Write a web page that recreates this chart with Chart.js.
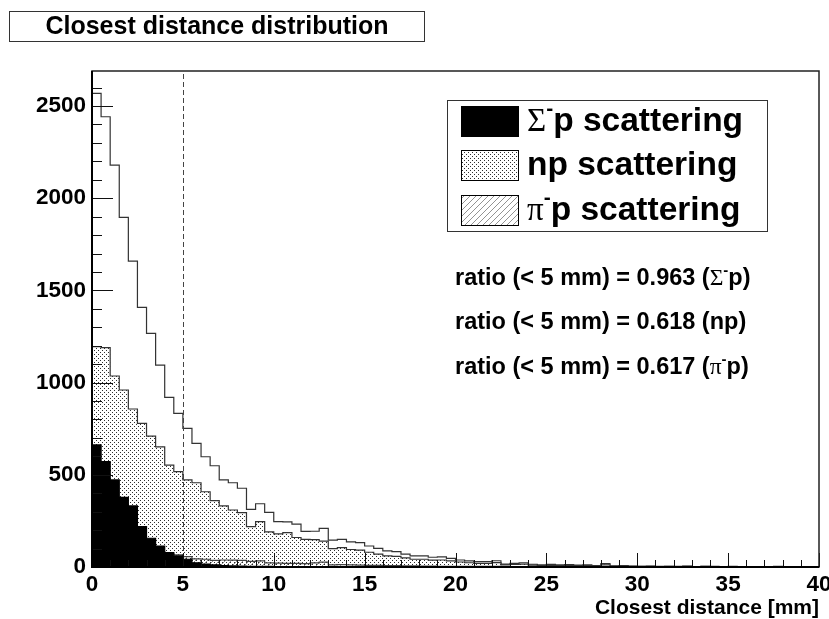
<!DOCTYPE html>
<html>
<head>
<meta charset="utf-8">
<script src="https://cdn.jsdelivr.net/npm/chart.js@4.4.1/dist/chart.umd.min.js"></script>
<style>
  html, body { margin: 0; padding: 0; background: #ffffff; }
  #wrap { position: relative; width: 829px; height: 619px; }
</style>
</head>
<body>
<div id="wrap"><canvas id="histChart" width="829" height="619"></canvas></div>
<script>
// bins are 0.5 mm wide, 0 .. 40 mm
const binWidth = 0.5;
const xTicks = [0, 5, 10, 15, 20, 25, 30, 35, 40];
const yTicks = [0, 500, 1000, 1500, 2000, 2500];
const yMax = 2690;
const cutValue = 5;

const totalCounts = [
  2569, 2442, 2180, 1896, 1659, 1408, 1267, 1095, 920, 833,
  752, 671, 598, 549, 472, 457, 427, 313, 343, 296,
  246, 245, 232, 193, 194, 210, 146, 150, 136, 132,
  114, 101, 87, 83, 70, 60, 60, 53, 55, 47,
  38, 33, 29, 29, 34, 16, 20, 23, 15, 11,
  14, 12, 13, 10, 11, 8, 18, 6, 7, 5,
  4, 5, 3, 4, 3, 5, 2, 4, 3, 2,
  3, 2, 2, 1, 2, 3, 1, 1, 2, 1,
];

const npCounts = [
  1195, 1190, 1036, 960, 857, 779, 710, 652, 553, 517,
  472, 457, 408, 360, 331, 309, 295, 219, 246, 190,
  180, 186, 160, 150, 148, 140, 100, 105, 95, 92,
  80, 70, 60, 58, 49, 42, 42, 37, 38, 33,
  27, 23, 20, 20, 24, 11, 14, 16, 10, 8,
  9, 8, 9, 7, 7, 5, 12, 4, 5, 3,
  3, 3, 2, 3, 2, 3, 1, 3, 2, 1,
  2, 1, 1, 1, 1, 2, 1, 0, 1, 1,
];

const piCounts = [
  160, 150, 135, 122, 112, 100, 92, 84, 74, 66,
  56, 44, 42, 36, 38, 37, 36, 30, 33, 22,
  21, 20, 20, 18, 22, 26, 12, 13, 12, 10,
  9, 9, 7, 8, 6, 6, 5, 5, 4, 4,
  4, 3, 3, 3, 3, 2, 2, 2, 2, 1,
  1, 1, 1, 1, 1, 0, 1, 0, 1, 0,
  0, 1, 0, 0, 0, 1, 0, 0, 0, 0,
  0, 0, 0, 0, 0, 0, 0, 0, 0, 0,
];

const sigmaCounts = [
  662, 571, 472, 378, 331, 219, 156, 114, 78, 60,
  42, 23, 16, 11, 8, 6, 5, 4, 3, 3,
  2, 2, 2, 1, 1, 1, 1, 1, 0, 1,
  0, 0, 0, 0, 0, 0, 0, 0, 0, 0,
  0, 0, 0, 0, 0, 0, 0, 0, 0, 0,
  0, 0, 0, 0, 0, 0, 0, 0, 0, 0,
  0, 0, 0, 0, 0, 0, 0, 0, 0, 0,
  0, 0, 0, 0, 0, 0, 0, 0, 0, 0,
];

const ratioLabels = [
  { value: "0.963", name: "Σ", tail: "p)", greek: true },
  { value: "0.618", name: "np)", tail: "", greek: false },
  { value: "0.617", name: "π", tail: "p)", greek: true },
];

const sansBold = (size) => `bold ${size}px "Liberation Sans", Arial, sans-serif`;
const serif = (size) => `${size}px "Liberation Serif", "DejaVu Serif", serif`;

function toSteps(counts) {
  const points = [{ x: 0, y: 0 }];
  counts.forEach((count, i) => points.push({ x: i * binWidth, y: count }));
  points.push({ x: counts.length * binWidth, y: 0 });
  return points;
}

function makeDotPattern() {
  const tile = document.createElement("canvas");
  tile.width = 4;
  tile.height = 4;
  const c = tile.getContext("2d");
  c.fillStyle = "#ffffff";
  c.fillRect(0, 0, 4, 4);
  c.fillStyle = "#2e2e2e";
  c.fillRect(0, 0, 1, 1);
  c.fillRect(2, 2, 1, 1);
  return c.createPattern(tile, "repeat");
}

function makeHatchPattern() {
  const tile = document.createElement("canvas");
  tile.width = 6;
  tile.height = 6;
  const c = tile.getContext("2d");
  c.strokeStyle = "#777777";
  c.lineWidth = 0.8;
  c.beginPath();
  c.moveTo(-1, 7);
  c.lineTo(7, -1);
  c.stroke();
  return c.createPattern(tile, "repeat");
}

const dotPattern = makeDotPattern();
const hatchPattern = makeHatchPattern();

function drawRich(ctx, parts, x, y) {
  let cx = x;
  parts.forEach((part) => {
    ctx.font = part.font;
    ctx.fillText(part.text, cx, y + (part.dy || 0));
    cx += ctx.measureText(part.text).width + (part.gap || 0);
  });
}

const framePlugin = {
  id: "framePlugin",
  afterDatasetsDraw(chart) {
    const { ctx, chartArea: area, scales } = chart;
    const x = scales.x;
    const y = scales.y;
    ctx.save();

    // dashed cut line
    const cx = Math.round(x.getPixelForValue(cutValue)) + 0.5;
    ctx.strokeStyle = "#444444";
    ctx.lineWidth = 1;
    ctx.setLineDash([5, 3]);
    ctx.beginPath();
    ctx.moveTo(cx, area.bottom);
    ctx.lineTo(cx, area.top);
    ctx.stroke();
    ctx.setLineDash([]);

    // ticks drawn inside the frame
    ctx.strokeStyle = "#111111";
    ctx.beginPath();
    for (let v = 0; v <= 2600; v += 100) {
      const py = Math.round(y.getPixelForValue(v)) + 0.5;
      const len = v % 500 === 0 ? 21 : 10;
      ctx.moveTo(area.left, py);
      ctx.lineTo(area.left + len, py);
    }
    for (let v = 0; v <= 40; v += 1) {
      const px = Math.round(x.getPixelForValue(v)) + 0.5;
      const len = v % 5 === 0 ? 14 : 7;
      ctx.moveTo(px, area.bottom);
      ctx.lineTo(px, area.bottom - len);
    }
    ctx.stroke();

    // frame
    ctx.strokeStyle = "#222222";
    ctx.lineWidth = 1.5;
    ctx.strokeRect(area.left, area.top, area.right - area.left, area.bottom - area.top);
    ctx.strokeStyle = "#000000";
    ctx.lineWidth = 2;
    ctx.beginPath();
    ctx.moveTo(area.left, area.top);
    ctx.lineTo(area.left, area.bottom);
    ctx.lineTo(area.right, area.bottom);
    ctx.stroke();

    // title box
    ctx.fillStyle = "#ffffff";
    ctx.fillRect(9.5, 11.5, 415, 30);
    ctx.strokeStyle = "#333333";
    ctx.lineWidth = 1;
    ctx.strokeRect(9.5, 11.5, 415, 30);
    ctx.fillStyle = "#000000";
    ctx.font = sansBold(25);
    ctx.textAlign = "center";
    ctx.textBaseline = "middle";
    ctx.fillText("Closest distance distribution", 217, 27);

    // x axis title
    ctx.textAlign = "right";
    ctx.textBaseline = "alphabetic";
    ctx.font = sansBold(21);
    ctx.fillText("Closest distance [mm]", area.right, 614);

    // legend box
    ctx.fillStyle = "#ffffff";
    ctx.fillRect(447.5, 100.5, 320, 131);
    ctx.strokeStyle = "#333333";
    ctx.lineWidth = 1;
    ctx.strokeRect(447.5, 100.5, 320, 131);

    const swatches = [
      { fill: "#000000", top: 106 },
      { fill: dotPattern, top: 150 },
      { fill: hatchPattern, top: 195 },
    ];
    swatches.forEach((s) => {
      ctx.fillStyle = s.fill;
      ctx.fillRect(461, s.top, 58, 31);
      ctx.strokeStyle = "#000000";
      ctx.strokeRect(461.5, s.top + 0.5, 57, 30);
    });

    ctx.fillStyle = "#000000";
    ctx.textAlign = "left";
    ctx.textBaseline = "middle";
    drawRich(ctx, [
      { text: "Σ", font: serif(33) },
      { text: "-", font: sansBold(21), dy: -13 },
      { text: "p scattering", font: sansBold(33.5) },
    ], 527, 122);
    drawRich(ctx, [{ text: "np scattering", font: sansBold(33.5) }], 527, 166);
    drawRich(ctx, [
      { text: "π", font: serif(33) },
      { text: "-", font: sansBold(21), dy: -13 },
      { text: "p scattering", font: sansBold(33.5) },
    ], 527, 211);

    // ratio texts
    const ratioY = [279, 323, 368];
    ratioLabels.forEach((r, i) => {
      const parts = [{ text: `ratio (< 5 mm) = ${r.value} (`, font: sansBold(23.5) }];
      if (r.greek) {
        parts.push({ text: r.name, font: serif(23.5) });
        parts.push({ text: "-", font: sansBold(15), dy: -8 });
        parts.push({ text: r.tail, font: sansBold(23.5) });
      } else {
        parts.push({ text: r.name, font: sansBold(23.5) });
      }
      drawRich(ctx, parts, 455, ratioY[i]);
    });

    ctx.restore();
  },
};

function lineDataset(label, counts, opts) {
  return Object.assign({
    label,
    data: toSteps(counts),
    stepped: true,
    pointRadius: 0,
    borderWidth: 1.2,
    tension: 0,
  }, opts);
}

const chart = new Chart(document.getElementById("histChart"), {
  type: "line",
  data: {
    datasets: [
      lineDataset("Σ⁻p scattering", sigmaCounts, {
        borderColor: "#000000",
        backgroundColor: "#000000",
        fill: "origin",
        order: 1,
      }),
      lineDataset("π⁻p scattering", piCounts, {
        borderColor: "#444444",
        backgroundColor: hatchPattern,
        fill: "origin",
        order: 2,
      }),
      lineDataset("np scattering", npCounts, {
        borderColor: "#333333",
        backgroundColor: dotPattern,
        fill: "origin",
        order: 3,
      }),
      lineDataset("all", totalCounts, {
        borderColor: "#333333",
        backgroundColor: "#ffffff",
        fill: false,
        order: 4,
      }),
    ],
  },
  options: {
    responsive: false,
    animation: false,
    devicePixelRatio: 1,
    layout: { padding: { left: 0, top: 71, right: 10, bottom: 0 } },
    plugins: {
      legend: { display: false },
      tooltip: { enabled: false },
      title: { display: false },
    },
    scales: {
      x: {
        type: "linear",
        min: 0,
        max: 40,
        afterBuildTicks(scale) {
          scale.ticks = xTicks.map((v) => ({ value: v }));
        },
        afterFit(scale) {
          scale.height = 52;
          scale.paddingLeft = 0;
          scale.paddingRight = 0;
        },
        ticks: {
          color: "#000000",
          font: { family: "Liberation Sans", weight: "bold", size: 22.5 },
          padding: 4,
          maxRotation: 0,
          callback: (value) => String(value),
        },
        grid: { display: false, drawTicks: false },
        border: { display: false },
      },
      y: {
        type: "linear",
        min: 0,
        max: yMax,
        afterBuildTicks(scale) {
          scale.ticks = yTicks.map((v) => ({ value: v }));
        },
        afterFit(scale) {
          scale.width = 92;
          scale.paddingTop = 0;
          scale.paddingBottom = 0;
        },
        ticks: {
          color: "#000000",
          font: { family: "Liberation Sans", weight: "bold", size: 22.5 },
          padding: 6,
          callback: (value) => String(value),
        },
        grid: { display: false, drawTicks: false },
        border: { display: false },
      },
    },
  },
  plugins: [framePlugin],
});
</script>
</body>
</html>
